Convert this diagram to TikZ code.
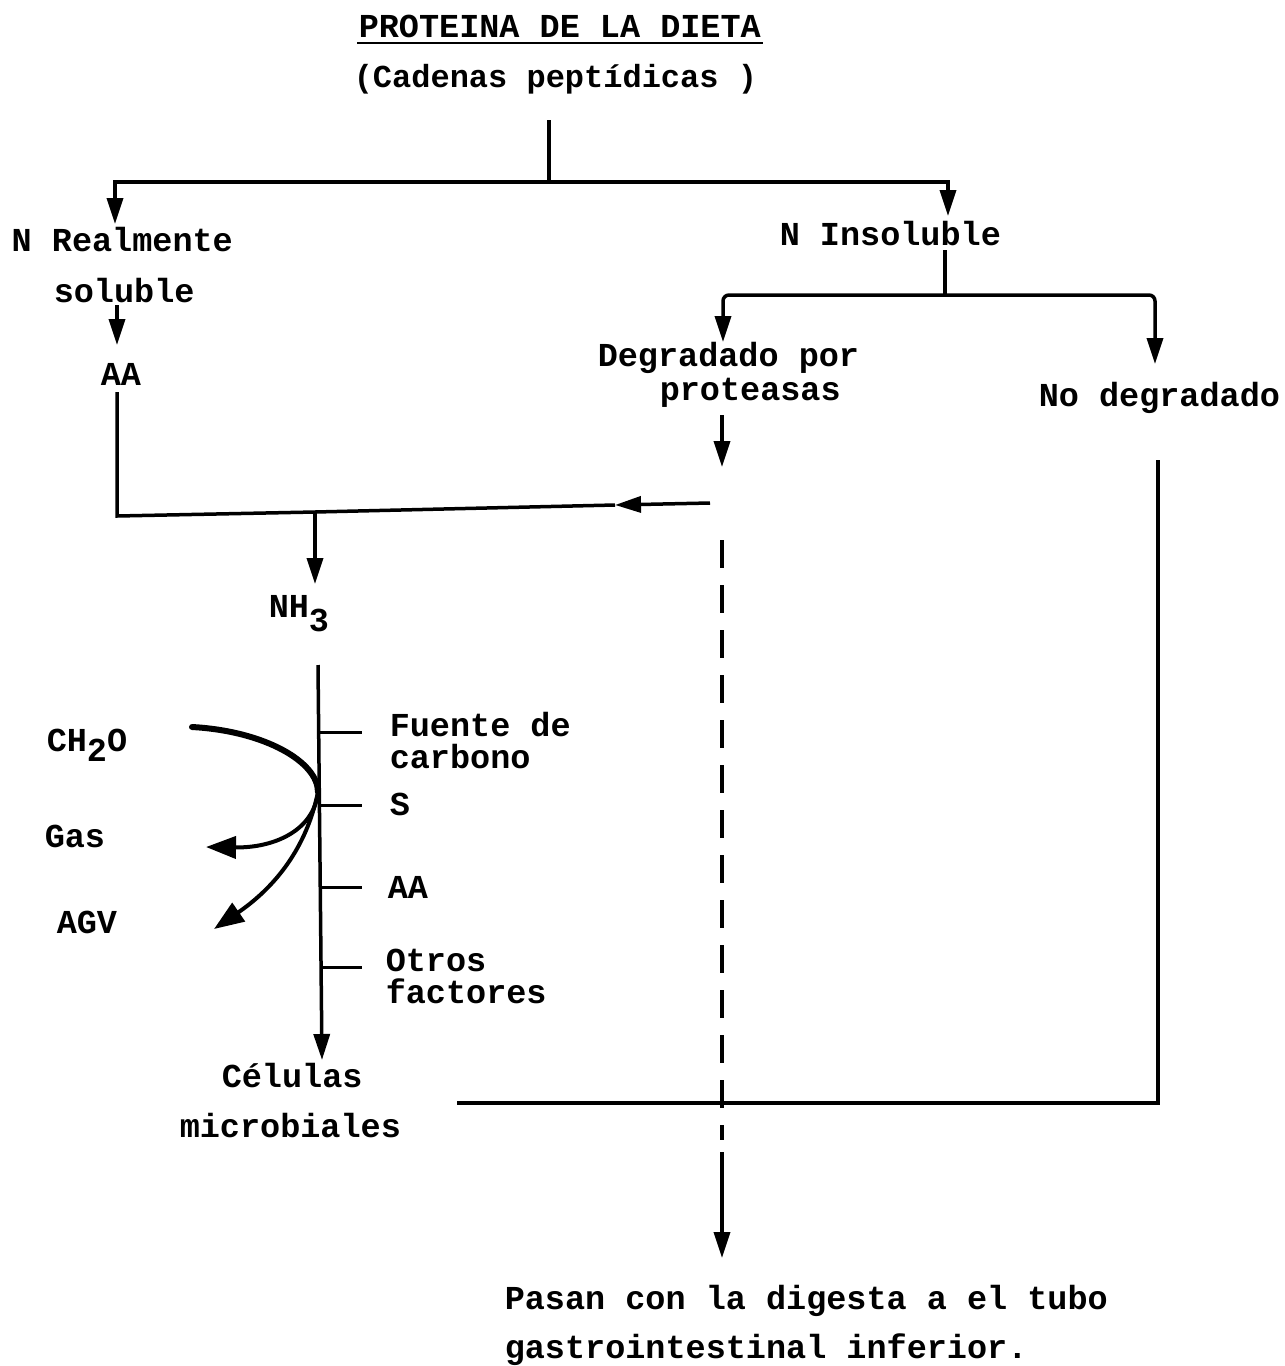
\documentclass[tikz,border=0pt]{standalone}
\usepackage{fontspec}
\setmainfont{Liberation Mono}
\usetikzlibrary{arrows.meta}
\begin{document}
\begin{tikzpicture}[x=1pt,y=-1pt,line width=3.5pt,
  txt/.style={anchor=base west,inner sep=0pt,font=\fontsize{33.5}{40}\selectfont\bfseries},
  arr/.style={-{Triangle[length=26pt,width=16pt]}},
  bigarr/.style={-{Triangle[length=30pt,width=22pt]}},
  tick/.style={line width=3pt},
  dsh/.style={line width=4pt,dash pattern=on 28pt off 17pt}]
\useasboundingbox (0,0) rectangle (1285,1366);
% texts
\node[txt] (title) at (357,37) {PROTEINA DE LA DIETA};
\node[anchor=base west,inner sep=0pt,font=\fontsize{32}{38}\selectfont\bfseries] (cad) at (352,87) {(Cadenas peptídicas )};
\node[txt] (real) at (10,251) {N Realmente};
\node[txt] (sol) at (52,302) {soluble};
\node[txt] (aa1) at (99,385) {AA};
\node[txt] (nh3) at (267,617) {NH\raisebox{-14pt}{3}};
\node[txt] (ins) at (778,245) {N Insoluble};
\node[txt] (deg) at (596,366) {Degradado por};
\node[txt] (prot) at (658,400) {proteasas};
\node[txt] (nodeg) at (1037,406) {No degradado};
\node[txt] (fuente) at (388,736) {Fuente de};
\node[txt] (carb) at (388,768) {carbono};
\node[txt] (s) at (388,815) {S};
\node[txt] (aa2) at (386,898) {AA};
\node[txt] (otros) at (384,971) {Otros};
\node[txt] (fact) at (384,1003) {factores};
\node[txt] (ch2o) at (45,751) {CH\raisebox{-10pt}{2}O};
\node[txt] (gas) at (43,847) {Gas};
\node[txt] (agv) at (55,933) {AGV};
\node[txt] (cel) at (220,1087) {Células};
\node[txt] (micro) at (178,1137) {microbiales};
\node[txt] (pasan) at (503,1309) {Pasan con la digesta a el tubo};
\node[txt] (gastro) at (503,1358) {gastrointestinal inferior.};
% underline
\draw[line width=2.5pt] ([yshift=-6pt]title.base west) -- ([yshift=-6pt]title.base east);
% coordinates
\coordinate (a0) at (549,120);
\coordinate (a1) at (549,182);
\coordinate (aL) at (115,224);
\coordinate (aR) at (948,216);
\coordinate (s0) at (117,305);
\coordinate (s1) at (117,345);
\coordinate (aa0) at (117,392);
\coordinate (lc) at (117,516);
\coordinate (j) at (315,512);
\coordinate (mid) at (615,505);
\coordinate (rt) at (710,503);
\coordinate (nh) at (315,584);
\coordinate (i0) at (945,250);
\coordinate (i1) at (945,295);
\coordinate (dL) at (723,342);
\coordinate (dR) at (1155,364);
\coordinate (p0) at (722,415);
\coordinate (p1) at (722,467);
\coordinate (d0) at (722,540);
\coordinate (d1) at (722,1140);
\coordinate (d2) at (722,1152);
\coordinate (d3) at (722,1258);
\coordinate (r0) at (1158,460);
\coordinate (r1) at (457,1103);
\coordinate (m0) at (318,665);
\coordinate (m1) at (322,1060);
\coordinate (apex) at (318,792);
\coordinate (c0) at (192,727);
\coordinate (gt) at (206,847);
\coordinate (at) at (214,929);
% connectors
\draw (a0) -- (a1);
\draw[arr] (a1) -| (aL);
\draw[arr] (a1) -| (aR);
\draw[arr] (s0) -- (s1);
\draw (aa0) -- (lc) -- (j) -- (mid);
\draw[arr] (rt) -- (mid);
\draw[arr] (j) -- (nh);
\draw (i0) -- (i1);
\draw[arr,rounded corners=6pt] (i1) -| (dL);
\draw[arr,rounded corners=6pt] (i1) -| (dR);
\draw[arr] (p0) -- (p1);
\draw[dsh] (d0) -- (d1);
\draw[arr] (d2) -- (d3);
\draw (r0) |- (r1);
\draw[arr] (m0) -- (m1);
\draw[tick] (320,732) -- (362,732);
\draw[tick] (320,805) -- (362,805);
\draw[tick] (321,887) -- (362,887);
\draw[tick] (321,967) -- (362,967);
\draw[line width=6pt,line cap=round] (c0) .. controls (265,731) and (318,762) .. (apex);
\draw[bigarr,line width=4pt] (apex) .. controls (314,830) and (275,848) .. (gt);
\draw[bigarr,line width=4pt] (apex) .. controls (305,855) and (268,892) .. (at);
\end{tikzpicture}
\end{document}
